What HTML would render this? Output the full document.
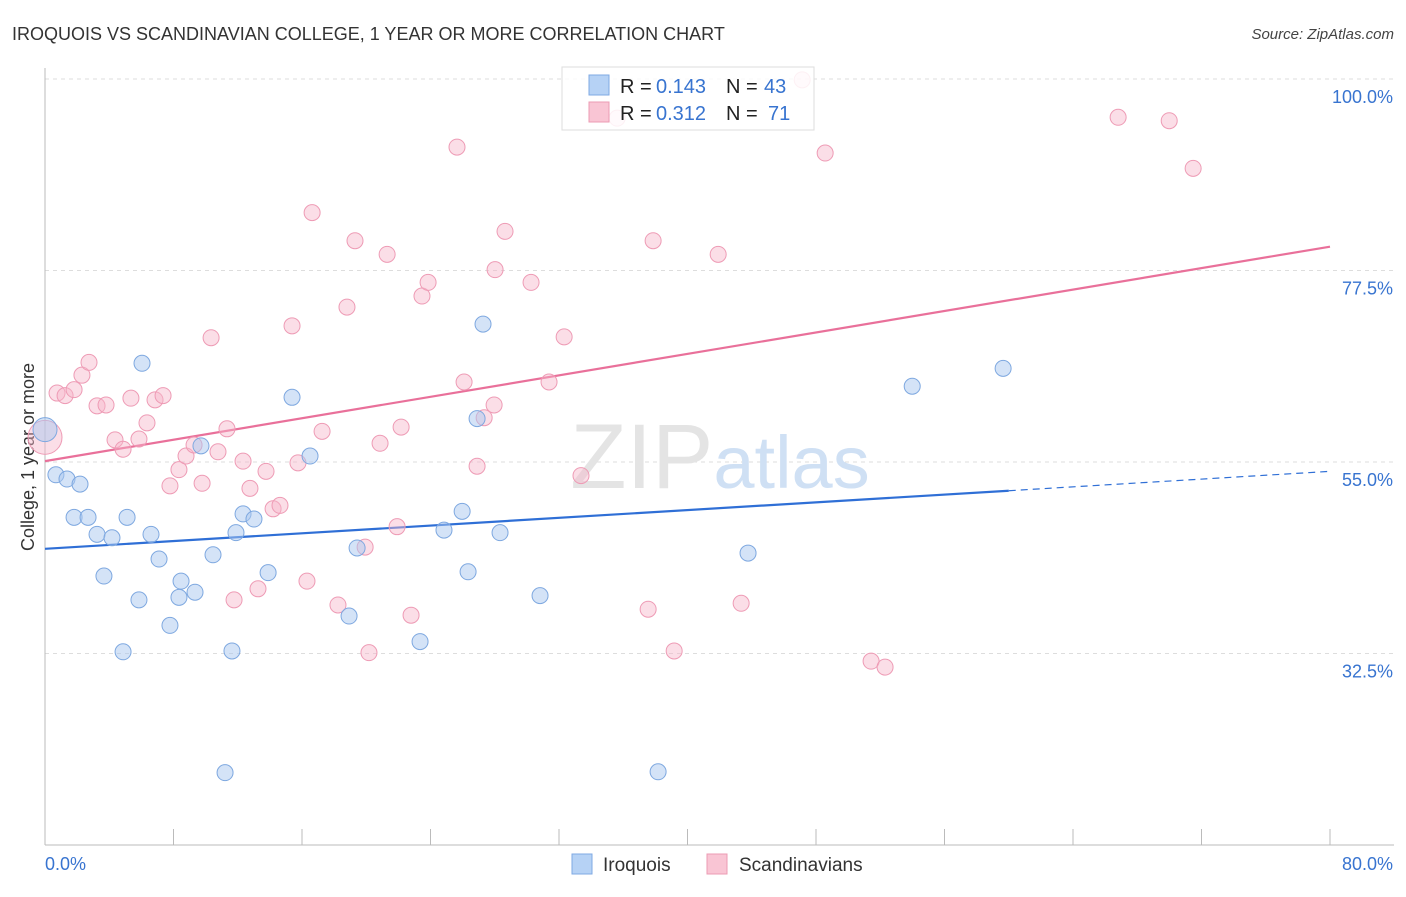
<!DOCTYPE html>
<html><head><meta charset="utf-8">
<style>
body{margin:0;background:#fff;font-family:"Liberation Sans",sans-serif;}
svg text{font-family:"Liberation Sans",sans-serif;}
</style></head>
<body>
<svg id="chart" width="1406" height="892" viewBox="0 0 1406 892" xmlns="http://www.w3.org/2000/svg">
<text x="12" y="40" font-size="18" fill="#333">IROQUOIS VS SCANDINAVIAN COLLEGE, 1 YEAR OR MORE CORRELATION CHART</text>
<text x="1394" y="39" font-size="15" fill="#444" text-anchor="end" font-style="italic">Source: ZipAtlas.com</text>
<text transform="translate(34,457) rotate(-90)" font-size="18" fill="#333" text-anchor="middle">College, 1 year or more</text>
<g id="grid"></g>
<g id="axes"></g>
<text x="720" y="488" font-size="92" text-anchor="middle" fill="#e4e4e4" font-family="Liberation Serif"><tspan>ZIP</tspan><tspan fill="#cfe0f4" font-family="Liberation Sans" font-size="74">atlas</tspan></text>
<g id="trends"></g>
<g id="points"></g>
<g>
<rect x="562" y="67" width="252" height="63" fill="rgba(255,255,255,0.85)" stroke="#ddd"/>
<rect x="589" y="75" width="20" height="20" fill="#b6d2f5" stroke="#7fa9e3"/>
<rect x="589" y="102" width="20" height="20" fill="#f9c5d4" stroke="#ec9bb3"/>
<text x="620" y="93" font-size="20" fill="#222">R =</text>
<text x="656" y="93" font-size="20" fill="#3874d0">0.143</text>
<text x="726" y="93" font-size="20" fill="#222">N =</text>
<text x="764" y="93" font-size="20" fill="#3874d0">43</text>
<text x="620" y="120" font-size="20" fill="#222">R =</text>
<text x="656" y="120" font-size="20" fill="#3874d0">0.312</text>
<text x="726" y="120" font-size="20" fill="#222">N =</text>
<text x="768" y="120" font-size="20" fill="#3874d0">71</text>
</g>
<g>
<rect x="572" y="854" width="20" height="20" fill="#b6d2f5" stroke="#7fa9e3"/>
<text x="603" y="871" font-size="19" fill="#333">Iroquois</text>
<rect x="707" y="854" width="20" height="20" fill="#f9c5d4" stroke="#ec9bb3"/>
<text x="739" y="871" font-size="19" fill="#333">Scandinavians</text>
</g>
</svg>
<script>
const yTicks=[100,77.5,55,32.5];
const xTickLabels=["0.0%","80.0%"];
const blueX=[0,0.68,1.37,2.18,1.81,2.68,3.24,4.17,3.67,5.11,6.04,6.6,7.1,5.85,7.78,4.86,8.47,8.34,9.34,9.71,10.46,11.21,11.64,11.89,12.33,13.01,13.89,15.38,16.5,18.93,19.43,23.35,24.84,25.97,26.34,26.9,27.27,28.33,30.82,38.17,43.77,53.99,59.65];
const blueY=[58.8,53.5,53.0,52.4,48.5,48.5,46.5,46.1,41.6,48.5,66.6,46.5,43.6,38.8,35.8,32.7,41.0,39.1,39.7,56.9,44.1,18.5,32.8,46.7,48.9,48.3,42.0,62.6,55.7,36.9,44.9,33.9,47.0,49.2,42.1,60.1,71.2,46.7,39.3,18.6,44.3,63.9,66.0];
const pinkX=[0,0.75,1.25,1.81,2.3,2.74,3.24,3.8,4.36,4.86,5.35,5.85,6.35,6.85,7.35,7.78,8.34,8.78,9.28,9.78,10.34,10.77,11.33,11.77,12.33,12.76,13.26,13.76,14.2,14.63,15.38,15.75,16.31,16.63,17.25,18.24,18.8,19.3,19.93,20.17,20.86,21.3,21.92,22.17,22.79,23.47,23.85,25.65,26.09,26.9,27.34,27.96,28.02,28.64,30.26,31.38,32.32,33.37,35.62,37.55,37.86,39.17,41.91,43.34,47.14,48.57,51.43,52.3,66.81,69.99,71.48];
const pinkY=[57.9,63.1,62.8,63.5,65.2,66.7,61.6,61.7,57.6,56.5,62.5,57.7,59.6,62.3,62.8,52.2,54.1,55.7,57.0,52.5,69.6,56.2,58.9,38.8,55.1,51.9,40.1,53.9,49.5,49.9,71.0,54.9,41.0,84.3,58.6,38.2,73.2,81.0,45.0,32.6,57.2,79.4,47.4,59.1,37.0,74.5,76.1,92.0,64.4,54.5,60.2,61.7,77.6,82.1,76.1,64.4,69.7,53.4,95.4,37.7,81.0,32.8,79.4,38.4,99.9,91.3,31.6,30.9,95.5,95.1,89.5];
const blueTrend=[44.8,53.9];
const pinkTrend=[55.1,80.3];
const X=v=>45+v*(1285/80);
const Y=v=>79+(100-v)*8.511;
const NS="http://www.w3.org/2000/svg";
function mk(tag,attrs,parent){const e=document.createElementNS(NS,tag);for(const k in attrs)e.setAttribute(k,attrs[k]);parent.appendChild(e);return e;}
const grid=document.getElementById('grid');
yTicks.forEach(t=>{
 const l=mk('line',{x1:45,x2:1394,y1:Y(t),y2:Y(t),stroke:'#ddd','stroke-dasharray':'4,4'},grid);
 
 
 const tx=mk('text',{x:1393,y:Y(t)+24,'font-size':18,fill:'#3874d0','text-anchor':'end'},grid);
 tx.textContent=t.toFixed(1)+'%';
 
 
});
const axes=document.getElementById('axes');
mk('line',{x1:45,x2:45,y1:68,y2:845,stroke:'#bbb'},axes);
mk('line',{x1:45,x2:1394,y1:845,y2:845,stroke:'#bbb'},axes);
for(let i=0;i<=10;i++){mk('line',{x1:X(i*8),x2:X(i*8),y1:829,y2:845,stroke:'#bbb'},axes);}
const xl0=mk('text',{x:45,y:870,'font-size':18,fill:'#3874d0'},axes);xl0.textContent=xTickLabels[0];


const xl1=mk('text',{x:1393,y:870,'font-size':18,fill:'#3874d0','text-anchor':'end'},axes);xl1.textContent=xTickLabels[1];


const tr=document.getElementById('trends');
const bAt=v=>blueTrend[0]+(blueTrend[1]-blueTrend[0])*v/80;
let t1=mk('line',{x1:X(0),y1:Y(bAt(0)),x2:X(60),y2:Y(bAt(60)),stroke:'#2f6fd6','stroke-width':2.2},tr);


let t2=mk('line',{x1:X(60),y1:Y(bAt(60)),x2:X(80),y2:Y(bAt(80)),stroke:'#2f6fd6','stroke-width':1.2,'stroke-dasharray':'7,5'},tr);


let t3=mk('line',{x1:X(0),y1:Y(pinkTrend[0]),x2:X(80),y2:Y(pinkTrend[1]),stroke:'#e9709a','stroke-width':2.2},tr);


const pts=document.getElementById('points');
pinkX.forEach((x,i)=>{
 const c=mk('circle',{cx:X(x),cy:Y(pinkY[i]),r:i===0?17:8,fill:'rgba(246,182,202,0.45)',stroke:'#ee9bb5','stroke-width':1},pts);
 
 
});
blueX.forEach((x,i)=>{
 const c=mk('circle',{cx:X(x),cy:Y(blueY[i]),r:i===0?12:8,fill:'rgba(170,200,240,0.5)',stroke:'#7ea8e0','stroke-width':1},pts);
 
 
});
</script>
</body></html>
